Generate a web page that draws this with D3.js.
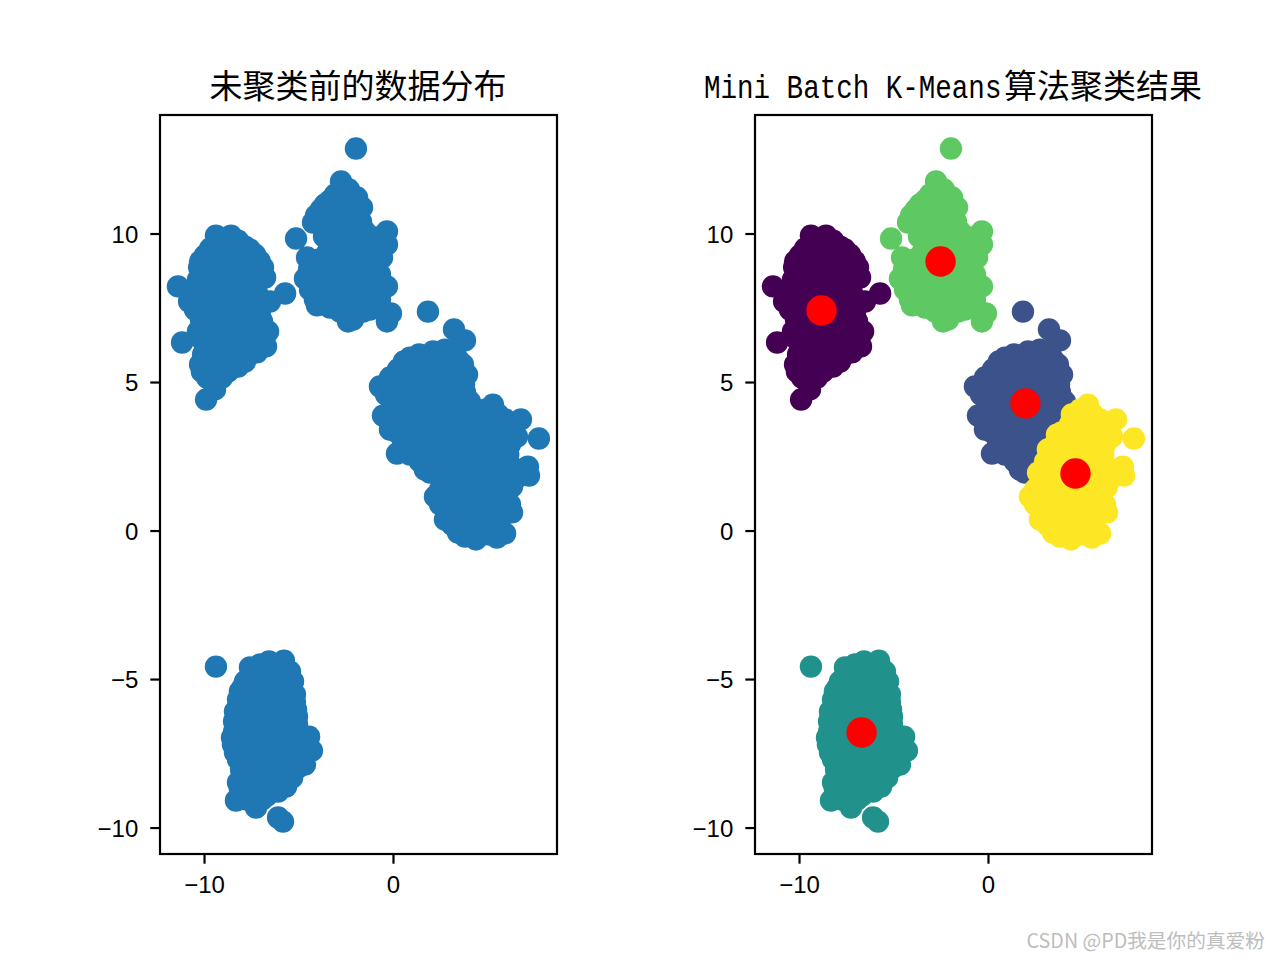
<!DOCTYPE html>
<html>
<head>
<meta charset="utf-8">
<script src="https://cdn.jsdelivr.net/npm/d3@7"></script>
<style>
  html, body { margin: 0; padding: 0; background: #fff; }
  svg { display: block; }
  .tick text { font-family: "Liberation Sans", sans-serif; font-size: 24px; fill: #000; }
</style>
</head>
<body>
<div class="svg-container"></div>
<script>
// [x, y] values, one list per cluster
const purplePoints = [
  [-11.38, 8.22], [-11.16, 6.33], [-5.71, 7.98], [-9.89, 4.41], [-9.42, 4.75], [-9.37, 9.93], [-8.57, 9.93],
  [-9.68, 9.49], [-7.83, 9.56], [-7.30, 9.29], [-10.21, 9.06], [-10.79, 7.71], [-10.32, 6.70], [-10.21, 5.59],
  [-9.84, 5.15], [-8.73, 5.35], [-8.20, 5.52], [-7.57, 5.93], [-6.72, 6.20], [-6.61, 6.70], [-7.04, 7.27],
  [-6.51, 7.71], [-6.77, 8.52], [-6.88, 8.86], [-10.26, 8.86], [-10.16, 7.10], [-10.0, 6.36],
  [-9.05, 9.80], [-8.2, 9.76], [-9.95, 9.26], [-10.32, 8.45], [-10.26, 8.11], [-10.58, 7.95], [-10.48, 7.44],
  [-10.05, 6.94], [-10.11, 6.43], [-10.05, 5.93], [-10.11, 5.35], [-9.58, 5.02], [-9.05, 5.15], [-7.83, 5.69],
  [-7.15, 6.09], [-6.83, 6.43], [-6.93, 7.04], [-6.77, 7.68], [-7.04, 9.06], [-7.57, 9.46],
  [-9.6, 9.0], [-8.8, 9.05], [-8.0, 9.0], [-7.2, 8.95], [-9.6, 8.5], [-8.8, 8.5], [-8.0, 8.45], [-7.2, 8.5],
  [-9.65, 8.0], [-8.8, 8.0], [-8.0, 8.05], [-7.2, 8.0], [-9.6, 7.5], [-8.85, 7.5], [-8.0, 7.5], [-7.2, 7.55],
  [-9.6, 7.0], [-8.8, 7.0], [-8.05, 7.0], [-7.2, 6.95], [-9.55, 6.5], [-8.8, 6.5], [-8.0, 6.5], [-7.2, 6.5],
  [-9.6, 6.0], [-8.8, 6.0], [-8.0, 6.0], [-7.2, 6.0], [-9.6, 5.5], [-8.8, 5.6],
  [-9.2, 8.75], [-8.4, 8.75], [-7.6, 8.75], [-9.2, 8.25], [-8.4, 8.25], [-7.6, 8.25], [-9.2, 7.75], [-8.4, 7.75],
  [-7.6, 7.75], [-9.2, 7.25], [-8.4, 7.25], [-7.6, 7.25], [-9.2, 6.75], [-8.4, 6.75], [-7.6, 6.75], [-9.2, 6.25],
  [-8.4, 6.25], [-7.6, 6.25], [-9.2, 5.75], [-8.4, 5.75], [-10.0, 8.3], [-10.0, 7.8], [-10.0, 7.3], [-10.0, 5.7],
  [-9.0, 9.42], [-8.45, 9.4], [-8.0, 9.4], [-9.3, 9.35]
];
const greenPoints = [
  [-1.96, 12.86], [-2.75, 11.75], [-2.33, 11.48], [-1.90, 11.21], [-1.64, 10.88], [-3.33, 11.11], [-3.81, 10.81],
  [-4.23, 10.37], [-5.13, 9.83], [-0.32, 10.07], [-0.32, 9.63], [-0.58, 9.19], [-4.55, 9.19], [-4.66, 8.48],
  [-0.32, 8.22], [-4.02, 7.58], [-3.33, 7.51], [-2.38, 7.04], [-2.12, 7.10], [-0.32, 7.04], [-0.11, 7.31],
  [-1.59, 7.37], [-0.85, 7.61], [-3.65, 9.9], [-1.69, 10.4],
  [-3.07, 11.31], [-2.54, 11.31], [-3.6, 10.98], [-4.07, 10.61],
  [-4.44, 8.79], [-4.39, 8.11], [-4.13, 7.78], [-3.6, 7.61], [-2.8, 7.37], [-1.22, 7.44], [-0.69, 7.78],
  [-0.79, 8.11], [-0.69, 8.62], [-0.95, 9.06], [-0.79, 9.39], [-0.9, 9.87], [-1.48, 10.07], [-1.85, 10.74],
  [-2.17, 10.98],
  [-3.07, 10.64], [-2.28, 10.64], [-2.6, 11.0], [-3.07, 10.13], [-2.28, 10.13], [-3.07, 9.63],
  [-2.28, 9.63], [-1.48, 9.63], [-0.79, 9.63], [-3.96, 9.12], [-3.07, 9.12], [-2.28, 9.12], [-1.48, 9.12],
  [-1.1, 9.12], [-3.86, 8.62], [-3.07, 8.62], [-2.28, 8.62], [-1.48, 8.62], [-0.79, 8.62], [-3.86, 8.11],
  [-3.07, 8.11], [-2.28, 8.11], [-1.48, 8.11], [-0.79, 8.11], [-3.33, 7.61], [-2.54, 7.61], [-1.75, 7.61],
  [-3.46, 10.38], [-2.67, 10.38], [-1.88, 10.38], [-3.46, 9.88], [-2.67, 9.88], [-1.88, 9.88], [-3.46, 9.37],
  [-2.67, 9.37], [-1.88, 9.37], [-1.08, 9.37], [-3.46, 8.87], [-2.67, 8.87], [-1.88, 8.87], [-1.08, 8.87],
  [-3.46, 8.36], [-2.67, 8.36], [-1.88, 8.36], [-1.08, 8.36], [-3.46, 7.86], [-2.67, 7.86], [-1.88, 7.86],
  [-1.08, 7.86], [-2.2, 7.4]
];
const navyPoints = [
  [1.85, 7.37], [3.23, 6.77], [3.81, 6.40], [2.12, 6.03], [1.38, 5.93], [0.26, 5.42], [-0.69, 4.85], [-0.53, 3.87],
  [-0.16, 3.40], [0.21, 2.59], [1.43, 2.32], [3.92, 5.25], [3.70, 5.59], [3.81, 4.65], [3.12, 6.03], [2.75, 6.09],
  [4.07, 4.34], [1.96, 1.95],
  [0.9, 5.82], [0.58, 5.69], [-0.16, 5.15], [-0.37, 4.58], [-0.05, 4.24], [-0.26, 3.74], [0.16, 3.33], [0.53, 2.9],
  [0.37, 2.66], [0.9, 2.56], [1.69, 2.05], [3.44, 5.76], [3.76, 4.92], [3.65, 4.41], [3.28, 6.09],
  [0.90, 5.59], [1.69, 5.59], [2.49, 5.59], [3.28, 5.59], [0.11, 5.08], [0.90, 5.08], [1.69, 5.08], [2.49, 5.08],
  [3.28, 5.08], [0.11, 4.58], [0.90, 4.58], [1.69, 4.58], [2.49, 4.58], [3.28, 4.58], [0.11, 4.07], [0.90, 4.07],
  [1.69, 4.07], [2.49, 4.07], [3.28, 4.07], [0.11, 3.57], [0.90, 3.57], [1.69, 3.57], [2.49, 3.57], [3.28, 3.57],
  [0.90, 3.06], [1.69, 3.06], [2.49, 3.06], [3.28, 3.06], [1.69, 2.56], [2.49, 2.56], [2.4, 2.1],
  [0.5, 5.33], [1.3, 5.33], [2.1, 5.33], [2.9, 5.33], [3.5, 5.33], [0.5, 4.83], [1.3, 4.83], [2.1, 4.83], [2.9, 4.83],
  [3.5, 4.83], [0.5, 4.33], [1.3, 4.33], [2.1, 4.33], [2.9, 4.33], [3.5, 4.33], [0.5, 3.83], [1.3, 3.83], [2.1, 3.83],
  [2.9, 3.83], [3.5, 3.83], [0.5, 3.33], [1.3, 3.33], [2.1, 3.33], [2.9, 3.33], [1.3, 2.83], [2.1, 2.83], [2.9, 2.83]
];
const tealPoints = [
  [-9.37, -4.58], [-7.57, -4.61], [-6.56, -4.41], [-5.77, -4.38], [-5.29, -5.08], [-8.10, -5.42], [-8.36, -6.09],
  [-8.41, -6.43], [-8.52, -6.97], [-8.36, -7.47], [-8.20, -8.48], [-8.31, -9.09], [-7.25, -9.33], [-6.67, -8.92],
  [-5.66, -8.62], [-5.03, -7.98], [-4.29, -7.41], [-4.44, -6.94], [-5.08, -6.26], [-5.19, -5.79], [-6.08, -9.66],
  [-5.82, -9.80], [-8.04, -8.05],
  [-7.04, -4.51], [-6.03, -4.51], [-7.83, -5.08], [-5.45, -4.75], [-8.2, -5.69], [-8.41, -6.77], [-8.47, -7.2],
  [-8.2, -7.71], [-7.94, -8.11], [-8.1, -8.72], [-7.73, -9.06], [-6.93, -9.06], [-6.08, -8.79], [-5.34, -8.32],
  [-4.66, -7.88], [-4.92, -7.44], [-5.03, -6.87], [-5.08, -6.53], [-5.13, -6.03], [-5.19, -5.52],
  [-7.57, -5.02], [-6.77, -5.02], [-5.98, -5.02], [-7.57, -5.52], [-6.77, -5.52], [-5.98, -5.52], [-7.57, -6.03],
  [-6.77, -6.03], [-5.98, -6.03], [-7.57, -6.53], [-6.77, -6.53], [-5.98, -6.53], [-5.19, -6.53], [-7.57, -7.04],
  [-6.77, -7.04], [-5.98, -7.04], [-5.19, -7.04], [-7.57, -7.54], [-6.77, -7.54], [-5.98, -7.54], [-5.19, -7.54],
  [-7.57, -8.05], [-6.77, -8.05], [-5.98, -8.05], [-7.57, -8.55], [-6.77, -8.55], [-7.57, -9.06], [-6.77, -8.3],
  [-7.95, -5.27], [-7.17, -5.27], [-6.37, -5.27], [-5.58, -5.27], [-7.95, -5.78], [-7.17, -5.78], [-6.37, -5.78],
  [-5.58, -5.78], [-7.95, -6.28], [-7.17, -6.28], [-6.37, -6.28], [-5.58, -6.28], [-7.95, -6.79], [-7.17, -6.79],
  [-6.37, -6.79], [-5.58, -6.79], [-7.95, -7.29], [-7.17, -7.29], [-6.37, -7.29], [-5.58, -7.29], [-7.95, -7.8],
  [-7.17, -7.8], [-6.37, -7.8], [-5.58, -7.8], [-7.95, -8.3], [-7.17, -8.3], [-6.37, -8.3], [-7.17, -8.8]
];
const yellowPoints = [
  [5.29, 4.24], [5.56, 3.91], [4.44, 3.91], [4.18, 3.33], [6.77, 3.74], [7.72, 3.10], [6.56, 3.16], [7.14, 2.15],
  [7.20, 1.85], [6.30, 1.48], [6.30, 0.61], [5.93, -0.10], [5.50, -0.24], [4.39, -0.30], [3.44, -0.07], [2.80, 0.67],
  [2.22, 1.14], [2.65, 1.95], [3.17, 2.73],
  [4.87, 4.07], [4.34, 3.57], [3.97, 3.23], [5.93, 3.74], [6.19, 3.4], [6.19, 2.9], [6.08, 2.39], [6.72, 2.05],
  [6.46, 1.72], [5.93, 1.21], [6.19, 0.88], [5.66, 0.37], [5.03, -0.13], [3.81, -0.2], [3.12, 0.2], [2.75, 0.37],
  [2.49, 0.88], [2.49, 1.38], [3.02, 1.72], [3.02, 2.32], [3.54, 2.9], [3.65, 3.23],
  [4.8, 3.57], [5.6, 3.57], [4.34, 3.06], [5.13, 3.06], [5.93, 3.06], [6.1, 2.56], [4.34, 2.56], [5.13, 2.56],
  [3.54, 2.05], [4.34, 2.05], [5.13, 2.05], [5.93, 2.05], [6.4, 2.0], [3.54, 1.55], [4.34, 1.55], [5.13, 1.55],
  [5.93, 1.55], [3.54, 1.04], [4.34, 1.04], [5.13, 1.04], [5.93, 1.04], [3.54, 0.54], [4.34, 0.54], [5.13, 0.54],
  [5.7, 0.54], [4.34, 0.03], [5.13, 0.03],
  [3.9, 3.3], [4.7, 3.3], [5.5, 3.3], [3.9, 2.8], [4.7, 2.8], [5.5, 2.8], [3.9, 2.3], [4.7, 2.3], [5.5, 2.3],
  [3.1, 1.8], [3.9, 1.8], [4.7, 1.8], [5.5, 1.8], [3.1, 1.3], [3.9, 1.3], [4.7, 1.3], [5.5, 1.3], [3.1, 0.8],
  [3.9, 0.8], [4.7, 0.8], [5.5, 0.8], [3.9, 0.3], [4.7, 0.3], [5.5, 0.3]
];
const centroids = [[-8.81, 7.41], [-2.51, 9.06], [1.98, 4.28], [4.63, 1.92], [-6.69, -6.80]];

const clusters = [purplePoints, navyPoints, tealPoints, greenPoints, yellowPoints];
const clusterColors = ['#440154', '#3b528b', '#21918c', '#5ec962', '#fde725'];

const xTicks = [-10, 0];
const yTicks = [-10, -5, 0, 5, 10];
const xDomain = [-12.33, 8.68];
const yDomain = [-10.89, 13.99];

const leftTitle = '未聚类前的数据分布';
const rightTitleLatin = 'Mini Batch K-Means';
const rightTitleCjk = '算法聚类结果';
const watermark = 'CSDN @PD我是你的真爱粉';

// set up svg element dimensions
const width = 1280;
const height = 960;
const panelTop = 115;
const panelBottom = 854;
const panelWidth = 397;

const svg = d3.select('.svg-container')
  .append('svg')
  .attr('width', width)
  .attr('height', height);

// draws one axes box and returns its scales
function drawPanel(left) {
  const xScale = d3.scaleLinear().domain(xDomain).range([left, left + panelWidth]);
  const yScale = d3.scaleLinear().domain(yDomain).range([panelBottom, panelTop]);

  const xAxis = d3.axisBottom(xScale).tickValues(xTicks).tickSize(9.7).tickPadding(12);
  const yAxis = d3.axisLeft(yScale).tickValues(yTicks).tickSize(9.7).tickPadding(12);

  const axes = svg.append('g').attr('class', 'axes');
  const marks = axes.append('g').attr('class', 'marks');

  axes.append('g')
    .attr('transform', `translate(0, ${panelBottom})`)
    .call(xAxis)
    .call((g) => g.select('.domain').remove());

  axes.append('g')
    .attr('transform', `translate(${left}, 0)`)
    .call(yAxis)
    .call((g) => g.select('.domain').remove())
    .call((g) => g.selectAll('.tick text').attr('dy', '0.36em'));

  axes.selectAll('.tick line').attr('stroke', '#000').attr('stroke-width', 2.2);

  axes.append('rect')
    .attr('x', left)
    .attr('y', panelTop)
    .attr('width', panelWidth)
    .attr('height', panelBottom - panelTop)
    .attr('fill', 'none')
    .attr('stroke', '#000')
    .attr('stroke-width', 2.2);

  return { xScale, yScale, marks };
}

function drawDots(group, points, color, radius, scales) {
  group.append('g')
    .selectAll('circle')
    .data(points)
    .join('circle')
    .attr('cx', (d) => scales.xScale(d[0]))
    .attr('cy', (d) => scales.yScale(d[1]))
    .attr('r', radius)
    .attr('fill', color);
}

// left panel, everything in one colour
const leftPanel = drawPanel(160);
clusters.forEach((points) => drawDots(leftPanel.marks, points, '#1f77b4', 11.2, leftPanel));

// right panel, coloured by cluster with the centres on top
const rightPanel = drawPanel(755);
clusters.forEach((points, i) => drawDots(rightPanel.marks, points, clusterColors[i], 11.2, rightPanel));
drawDots(rightPanel.marks, centroids, '#ff0000', 15.2, rightPanel);

// titles
svg.append('text')
  .text(leftTitle)
  .attr('x', 358)
  .attr('y', 98)
  .attr('text-anchor', 'middle')
  .style('font-family', '"Noto Sans CJK SC"')
  .style('font-size', '33px');

// latin part is squeezed to half-width, like the narrow font in the original
svg.append('text')
  .text(rightTitleLatin)
  .attr('transform', 'translate(704, 98) scale(0.835, 1)')
  .style('font-family', '"Liberation Mono"')
  .style('font-size', '33px');

svg.append('text')
  .text(rightTitleCjk)
  .attr('x', 1004)
  .attr('y', 98)
  .style('font-family', '"Noto Sans CJK SC"')
  .style('font-size', '33px');

// site watermark
svg.append('text')
  .text(watermark)
  .attr('x', 1265)
  .attr('y', 948)
  .attr('text-anchor', 'end')
  .attr('fill', '#bdbdbd')
  .style('font-family', '"Noto Sans CJK SC"')
  .style('font-size', '19.7px');
</script>
</body>
</html>
